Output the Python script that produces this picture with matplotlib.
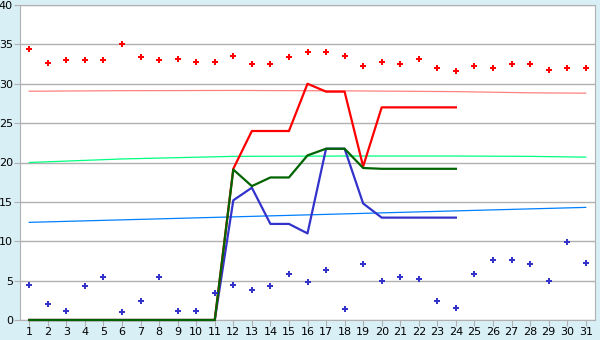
import matplotlib.pyplot as plt

days = list(range(1, 32))

# scatter series
red_pts = [34.4, 32.6, 33.0, 33.0, 33.0, 35.0, 33.4, 33.0, 33.2, 32.8,
           32.7, 33.5, 32.5, 32.5, 33.4, 34.0, 34.0, 33.5, 32.2, 32.8,
           32.5, 33.2, 32.0, 31.6, 32.2, 32.0, 32.5, 32.5, 31.8, 32.0, 32.0]
blue_pts = [4.5, 2.0, 1.2, 4.3, 5.4, 1.0, 2.4, 5.5, 1.1, 1.1,
            3.4, 4.5, 3.8, 4.3, 5.8, 4.8, 6.4, 1.35, 7.1, 5.0,
            5.5, 5.2, 2.4, 1.5, 5.8, 7.6, 7.6, 7.1, 5.0, 9.9, 7.2]

# line series (days 1-24)
line_days = list(range(1, 25))
red_line = [0] * 11 + [19.2, 24.0, 24.0, 24.0, 30.0, 29.0, 29.0, 19.5, 27.0, 27.0, 27.0, 27.0, 27.0]
green_line = [0] * 11 + [19.1, 17.0, 18.1, 18.1, 20.9, 21.75, 21.75, 19.3, 19.2, 19.2, 19.2, 19.2, 19.2]
blue_line = [0] * 11 + [15.2, 16.8, 12.2, 12.2, 11.0, 21.75, 21.75, 14.8, 13.0, 13.0, 13.0, 13.0, 13.0]

# trend lines
trend_x = [1, 6, 12, 18, 24, 28, 31]
red_trend = [29.05, 29.12, 29.15, 29.1, 29.0, 28.85, 28.8]
green_trend = [20.0, 20.45, 20.78, 20.82, 20.82, 20.78, 20.68]
blue_trend_x = [1, 31]
blue_trend = [12.4, 14.3]

fig = plt.figure(figsize=(6, 3.4), dpi=100)
fig.patch.set_facecolor('#d9eff6')
ax = fig.add_axes([20 / 600, 20 / 340, 575 / 600, 315 / 340])
ax.set_facecolor('white')

ax.plot(trend_x, red_trend, color='#ff8080', lw=0.9, zorder=2)
ax.plot(trend_x, green_trend, color='#00ff80', lw=0.9, zorder=2)
ax.plot(blue_trend_x, blue_trend, color='#0080ff', lw=0.9, zorder=2)

ax.plot(line_days, blue_line, color='#3333cc', lw=1.6, zorder=3, clip_on=False)
ax.plot(line_days, red_line, color='#ff0000', lw=1.6, zorder=3, clip_on=False)
ax.plot(line_days, green_line, color='#006400', lw=1.6, zorder=4, clip_on=False)

ax.plot(days, red_pts, 'P', color='#ff0000', ms=5, mew=0, ls='none', zorder=5)
ax.plot(days, blue_pts, 'P', color='#3333cc', ms=5, mew=0, ls='none', zorder=5)

ax.set_xlim(0.5, 31.5)
ax.set_ylim(0, 40)
ax.set_xticks(days)
ax.set_yticks(range(0, 41, 5))
ax.grid(axis='y', color='#b0b0b0', lw=1)
ax.set_axisbelow(True)
for s in ax.spines.values():
    s.set_color('#b0b0b0')
ax.tick_params(colors='#b0b0b0', labelcolor='black', labelsize=8, length=4, pad=1)

fig.savefig('out.png', dpi=100, facecolor=fig.get_facecolor())
